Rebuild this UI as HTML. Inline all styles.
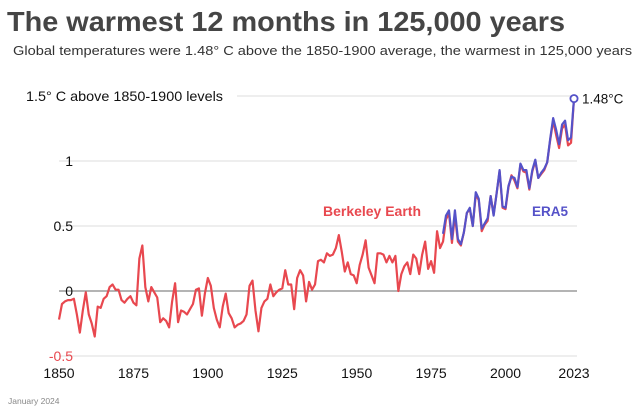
<!DOCTYPE html>
<html><head><meta charset="utf-8"><style>
body{margin:0;background:#fff;}
svg{display:block;font-family:"Liberation Sans",sans-serif;}
</style></head><body>
<svg width="640" height="411" viewBox="0 0 640 411">
<text x="7" y="31" font-size="28" font-weight="bold" fill="#454545" textLength="558" lengthAdjust="spacingAndGlyphs">The warmest 12 months in 125,000 years</text>
<text x="13" y="55" font-size="13.3" fill="#333" textLength="619" lengthAdjust="spacingAndGlyphs">Global temperatures were 1.48° C above the 1850-1900 average, the warmest in 125,000 years</text>
<text x="8" y="404" font-size="8.5" fill="#888">January 2024</text>
<g id="grid"></g>
<g id="lines"></g>
<text x="323" y="216" font-size="13.5" font-weight="bold" fill="#e8484f" textLength="98" lengthAdjust="spacingAndGlyphs">Berkeley Earth</text>
<text x="532" y="216" font-size="13.5" font-weight="bold" fill="#5552c8">ERA5</text>
</svg>
<script>
const years=[];for(let y=1850;y<=2023;y++)years.push(y);
const berkeley=[-0.22,-0.10,-0.08,-0.07,-0.07,-0.06,-0.18,-0.32,-0.15,-0.01,
-0.18,-0.25,-0.35,-0.12,-0.13,-0.06,-0.04,0.03,0.05,0.01,
0.01,-0.07,-0.09,-0.06,-0.04,-0.09,-0.11,0.25,0.35,0.03,
-0.08,0.03,-0.01,-0.05,-0.24,-0.21,-0.23,-0.28,-0.08,0.06,
-0.24,-0.15,-0.16,-0.18,-0.14,-0.10,0.01,0.02,-0.19,-0.02,
0.10,0.04,-0.13,-0.22,-0.28,-0.12,-0.02,-0.17,-0.21,-0.28,
-0.26,-0.25,-0.23,-0.18,0.04,0.08,-0.15,-0.31,-0.13,-0.08,
-0.06,0.05,-0.04,-0.01,0.01,0.02,0.16,0.05,0.05,-0.14,
0.10,0.16,0.12,-0.08,0.07,0.01,0.05,0.23,0.24,0.22,
0.29,0.27,0.28,0.33,0.43,0.30,0.15,0.22,0.13,0.12,
0.06,0.20,0.28,0.39,0.18,0.12,0.06,0.29,0.29,0.28,
0.22,0.27,0.22,0.27,0.00,0.13,0.19,0.22,0.13,0.28,
0.25,0.13,0.28,0.38,0.17,0.23,0.14,0.46,0.33,0.38,
0.55,0.60,0.37,0.58,0.38,0.35,0.45,0.60,0.63,0.50,
0.74,0.70,0.46,0.51,0.54,0.73,0.59,0.75,0.92,0.64,
0.63,0.80,0.89,0.85,0.79,0.97,0.92,0.91,0.78,0.92,
1.00,0.87,0.90,0.93,0.99,1.16,1.31,1.20,1.10,1.25,
1.28,1.12,1.14,1.48];
const era5Years=[];for(let y=1979;y<=2023;y++)era5Years.push(y);
const era5=[0.44,0.58,0.62,0.40,0.62,0.40,0.36,0.45,0.60,0.64,
0.50,0.76,0.71,0.48,0.52,0.56,0.73,0.58,0.75,0.93,
0.65,0.64,0.81,0.88,0.87,0.80,0.98,0.93,0.93,0.79,
0.93,1.01,0.87,0.91,0.94,0.99,1.17,1.33,1.24,1.13,
1.28,1.31,1.16,1.18,1.48];
const yTicks=[-0.5,0,0.5,1,1.5];
const yTickLabels=["-0.5","0","0.5","1","1.5° C above 1850-1900 levels"];
const xTicks=[1850,1875,1900,1925,1950,1975,2000,2023];

const NS="http://www.w3.org/2000/svg";
const X=y=>59+(y-1850)*(574-59)/(2023-1850);
const Y=v=>291-v*130;
const grid=document.getElementById('grid'),lines=document.getElementById('lines');
function mk(tag,attrs,parent){const e=document.createElementNS(NS,tag);for(const k in attrs)e.setAttribute(k,attrs[k]);parent.appendChild(e);return e;}
yTicks.forEach((v,i)=>{
  const last=i===yTicks.length-1;
  const ln=mk('line',{x1:last?237:59,x2:577,y1:Y(v),y2:Y(v),stroke:v===0?'#888':'#ddd','stroke-width':v===0?1.2:1},grid);
  
  
  const t=mk('text',{x:last?26:73,y:Y(v)+5,'font-size':14,'text-anchor':last?'start':'end',fill:v<0?'#e8484f':'#111'},grid);
  if(last){t.setAttribute('textLength',197);t.setAttribute('lengthAdjust','spacingAndGlyphs');}
  t.textContent=yTickLabels[i];
  
  
});
xTicks.forEach(yr=>{
  const t=mk('text',{x:X(yr),y:378,'font-size':14,'text-anchor':'middle',fill:'#111'},grid);
  t.textContent=yr;
  
  
});
const pb=mk('polyline',{points:years.map((y,i)=>X(y)+','+Y(berkeley[i])).join(' '),fill:'none',stroke:'#e8484f','stroke-width':2.2,'stroke-linejoin':'round'},lines);


const pe=mk('polyline',{points:era5Years.map((y,i)=>X(y)+','+Y(era5[i])).join(' '),fill:'none',stroke:'#5552c8','stroke-width':2.2,'stroke-linejoin':'round'},lines);


const li=era5.length-1;
const c=mk('circle',{cx:X(era5Years[li]),cy:Y(era5[li]),r:3.6,fill:'#fff',stroke:'#5552c8','stroke-width':1.8},lines);


const lt=mk('text',{x:X(era5Years[li])+8,y:Y(era5[li])+5,'font-size':13.5,fill:'#111'},lines);
lt.textContent=era5[li].toFixed(2)+'°C';


</script>
</body></html>
